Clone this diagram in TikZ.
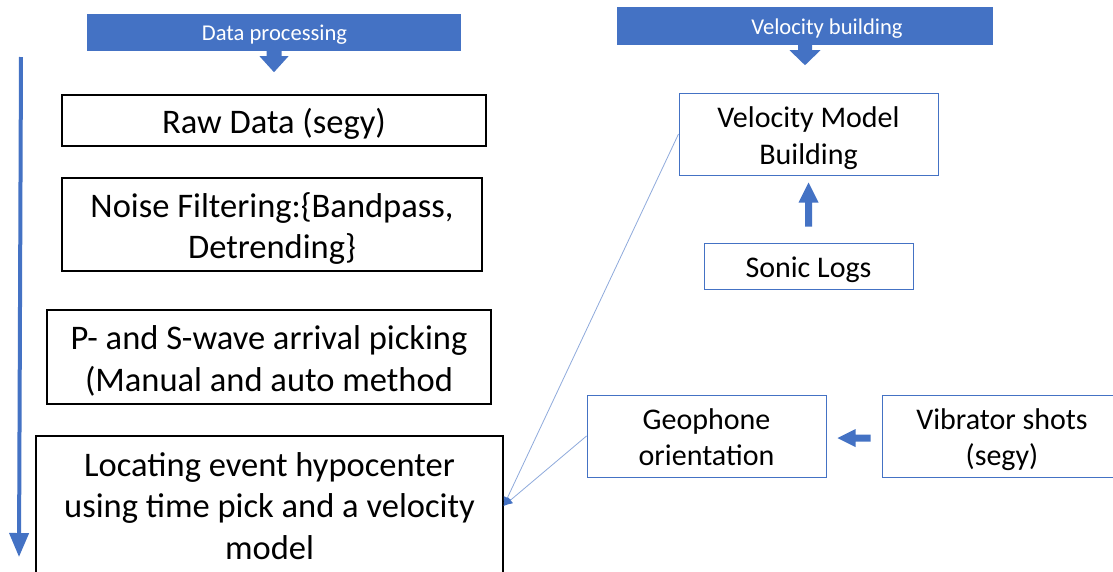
\documentclass[tikz,border=0pt]{standalone}
\usepackage{fontspec}
\setmainfont{Carlito}
\usetikzlibrary{arrows.meta,calc}
\definecolor{acc}{HTML}{4472C4}
\definecolor{lnk}{HTML}{8FAADC}
\begin{document}
\begin{tikzpicture}[x=1pt,y=-1pt,
  lbox/.style={draw=black,line width=1.1pt,inner sep=0pt},
  ltext/.style={align=center,inner sep=0pt,font=\fontsize{34.5}{41.5}\selectfont},
  rbox/.style={draw=acc,line width=1pt,inner sep=0pt},
  rtext/.style={align=center,inner sep=0pt,font=\fontsize{30}{36.5}\selectfont},
  hdr/.style={fill=acc,inner sep=0pt},
  hdrtext/.style={text=white,inner sep=0pt,font=\fontsize{22.6}{27}\selectfont},
  link/.style={draw=lnk,line width=0.8pt,-{Latex[length=9pt,width=8pt,color=acc]}}]
\clip (0,0) rectangle (1113,571);
\fill[white] (0,0) rectangle (1113,571);

% headers
\node[hdr,minimum width=374pt,minimum height=37pt] (h1) at (274,32.5) {};
\node[hdrtext] (t1) at (274.5,34.5) {Data processing};
\node[hdr,minimum width=376pt,minimum height=38pt] (h2) at (805,26) {};
\node[hdrtext] (t2) at (827,29) {Velocity building};

\fill[acc] ($(h1.south)+(-7.5,-1)$) -- ($(h1.south)+(-7.5,5)$) -- ($(h1.south)+(-14.5,5)$) -- ($(h1.south)+(0,21)$) -- ($(h1.south)+(14.5,5)$) -- ($(h1.south)+(7.5,5)$) -- ($(h1.south)+(7.5,-1)$) -- cycle;
\fill[acc] ($(h2.south)+(-7,-1)$) -- ($(h2.south)+(-7,5)$) -- ($(h2.south)+(-15.5,5)$) -- ($(h2.south)+(0,20)$) -- ($(h2.south)+(15.5,5)$) -- ($(h2.south)+(7,5)$) -- ($(h2.south)+(7,-1)$) -- cycle;

% left column
\node[lbox,minimum width=424pt,minimum height=51pt] (raw) at (274,120.5) {};
\node[ltext] (rawt) at ($(raw.center)+(0,3)$) {Raw Data (segy)};
\node[lbox,minimum width=420pt,minimum height=93pt] (noise) at (272,224.5) {};
\node[ltext] (noiset) at ($(noise.center)+(0,4)$) {Noise Filtering:\{Bandpass,\\Detrending\}};
\node[lbox,minimum width=444pt,minimum height=94pt] (pick) at (269,357) {};
\node[ltext] (pickt) at ($(pick.center)+(0,4)$) {P- and S-wave arrival picking\\(Manual and auto method};
\node[lbox,minimum width=467pt,minimum height=140pt] (loc) at (269.5,506) {};
\node[ltext] (loct) at ($(loc.center)+(0,0)$) {Locating event hypocenter\\using time pick and a velocity\\model};

% long arrow
\coordinate (ls) at (21,57);
\coordinate (le) at (19,557);
\draw[acc,line width=4pt,-{Triangle[length=24pt,width=19pt]}] (ls) -- (le);

% right column
\node[rbox,minimum width=259pt,minimum height=82pt] (vmb) at (808.5,134) {};
\node[rtext] (vmbt) at ($(vmb.center)+(0,4)$) {Velocity Model\\Building};
\node[rbox,minimum width=209pt,minimum height=46pt] (sonic) at (808.5,266) {};
\node[rtext] (sonict) at ($(sonic.center)+(0,4)$) {Sonic Logs};
\node[rbox,minimum width=239pt,minimum height=82pt] (geo) at (706.5,436) {};
\node[rtext] (geot) at ($(geo.center)+(0,1)$) {Geophone\\orientation};
\node[rbox,minimum width=240pt,minimum height=82pt] (vib) at (1002,436) {};
\node[rtext] (vibt) at ($(vib.center)+(0,3.5)$) {Vibrator shots\\(segy)};

% block arrows
\fill[acc] ($(sonic.north)+(-3.5,-16)$) -- ($(vmb.south)+(-3.5,27)$) -- ($(vmb.south)+(-10,27)$) -- ($(vmb.south)+(0,7)$) -- ($(vmb.south)+(10,27)$) -- ($(vmb.south)+(3.5,27)$) -- ($(sonic.north)+(3.5,-16)$) -- cycle;
\fill[acc] ($(vib.west)+(-11,-1.5)$) -- ($(geo.east)+(29,-1.5)$) -- ($(geo.east)+(29,-7)$) -- ($(geo.east)+(11,2)$) -- ($(geo.east)+(29,11)$) -- ($(geo.east)+(29,5.5)$) -- ($(vib.west)+(-11,5.5)$) -- cycle;

% links
\draw[link] (vmb.west) -- (loc.east);
\draw[link] (geo.west) -- (loc.east);
\end{tikzpicture}
\end{document}
